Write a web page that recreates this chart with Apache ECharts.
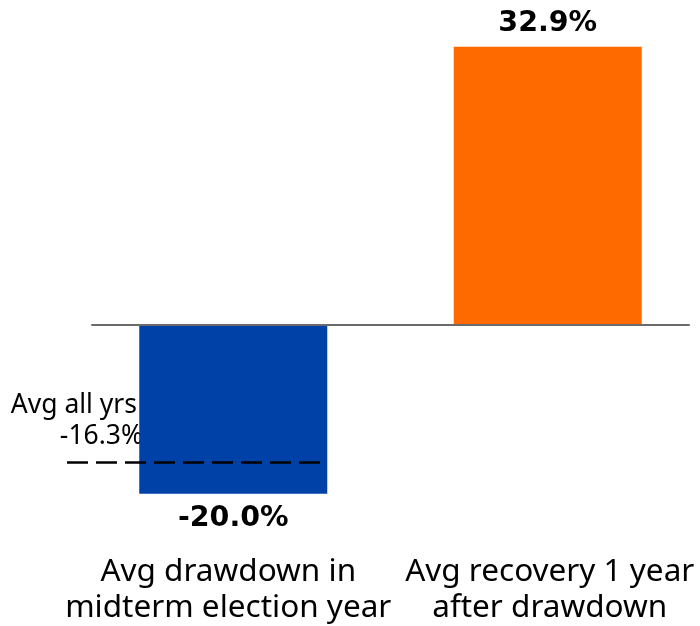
<!DOCTYPE html>
<html><head><meta charset="utf-8">
<script src="https://cdn.jsdelivr.net/npm/echarts@6/dist/echarts.min.js"></script>
<style>html,body{margin:0;padding:0;background:#fff}#c{width:700px;height:626px}</style>
</head><body><div id="c"></div>
<script>
const categories = ['Avg drawdown in\nmidterm election year', 'Avg recovery 1 year\nafter drawdown'];
const drawdownValues = [-20.0, null];
const recoveryValues = [null, 32.9];
const avgAllYears = -16.3;
const avgAllLabel = 'Avg all yrs';

const FONT = '"Noto Sans", sans-serif';
const BOLD_FONT = '"DejaVu Sans", sans-serif';
const chart = echarts.init(document.getElementById('c'), null, {renderer: 'canvas'});
const pct = v => v.toFixed(1) + '%';
chart.setOption({
  animation: false,
  grid: {left: 92, right: 11, top: 29, bottom: 90, containLabel: false, outerBoundsMode: 'none'},
  xAxis: [
    {type: 'category', data: categories, z: 5,
      axisLine: {onZero: true, lineStyle: {color: '#6b6b6b', width: 2}},
      axisTick: {show: false}, axisLabel: {show: false}, splitLine: {show: false}},
    {type: 'category', data: categories, position: 'bottom',
      axisLine: {show: false, onZero: false}, axisTick: {show: false}, splitLine: {show: false},
      axisLabel: {interval: 0, margin: 18, color: '#000', fontFamily: FONT, fontSize: 31.5, lineHeight: 36,
        formatter: (v, i) => (i === 0 ? '{l|' : '{r|') + v + '}',
        rich: {
          l: {fontFamily: FONT, fontSize: 31.5, lineHeight: 36, color: '#000', padding: [0, 26, 0, 0]},
          r: {fontFamily: FONT, fontSize: 31.5, lineHeight: 36, color: '#000', padding: [0, 0, 0, 20]}
        }}}
  ],
  yAxis: {type: 'value', min: -25, max: 35, show: false, splitLine: {show: false}},
  series: [
    {type: 'bar', name: 'drawdown', data: drawdownValues, xAxisIndex: 0, barWidth: 188, barGap: '-91.5%',
      itemStyle: {color: '#0041a8'},
      label: {show: true, position: 'bottom', distance: 10.5, formatter: p => pct(p.value),
        fontFamily: BOLD_FONT, fontWeight: 'bold', fontSize: 28.5, color: '#000'},
      markLine: {symbol: 'none', silent: true, z: 10,
        lineStyle: {type: [21, 8], color: '#000', width: 2.5},
        label: {show: false},
        data: [[{x: 67, yAxis: avgAllYears}, {x: 322, yAxis: avgAllYears}]]}},
    {type: 'bar', name: 'recovery', data: recoveryValues, xAxisIndex: 0, barWidth: 188, barGap: '-91.5%',
      itemStyle: {color: '#ff6a00'},
      label: {show: true, position: 'top', distance: 9, formatter: p => pct(p.value),
        fontFamily: BOLD_FONT, fontWeight: 'bold', fontSize: 28.5, color: '#000'}}
  ],
  graphic: [
    {type: 'text', right: 700 - 137, top: 392, style: {text: avgAllLabel, font: '26.5px ' + FONT, fill: '#000', textAlign: 'right'}},
    {type: 'text', right: 700 - 143, top: 423, style: {text: pct(avgAllYears), font: '26.5px ' + FONT, fill: '#000', textAlign: 'right'}}
  ]
});
</script></body></html>
